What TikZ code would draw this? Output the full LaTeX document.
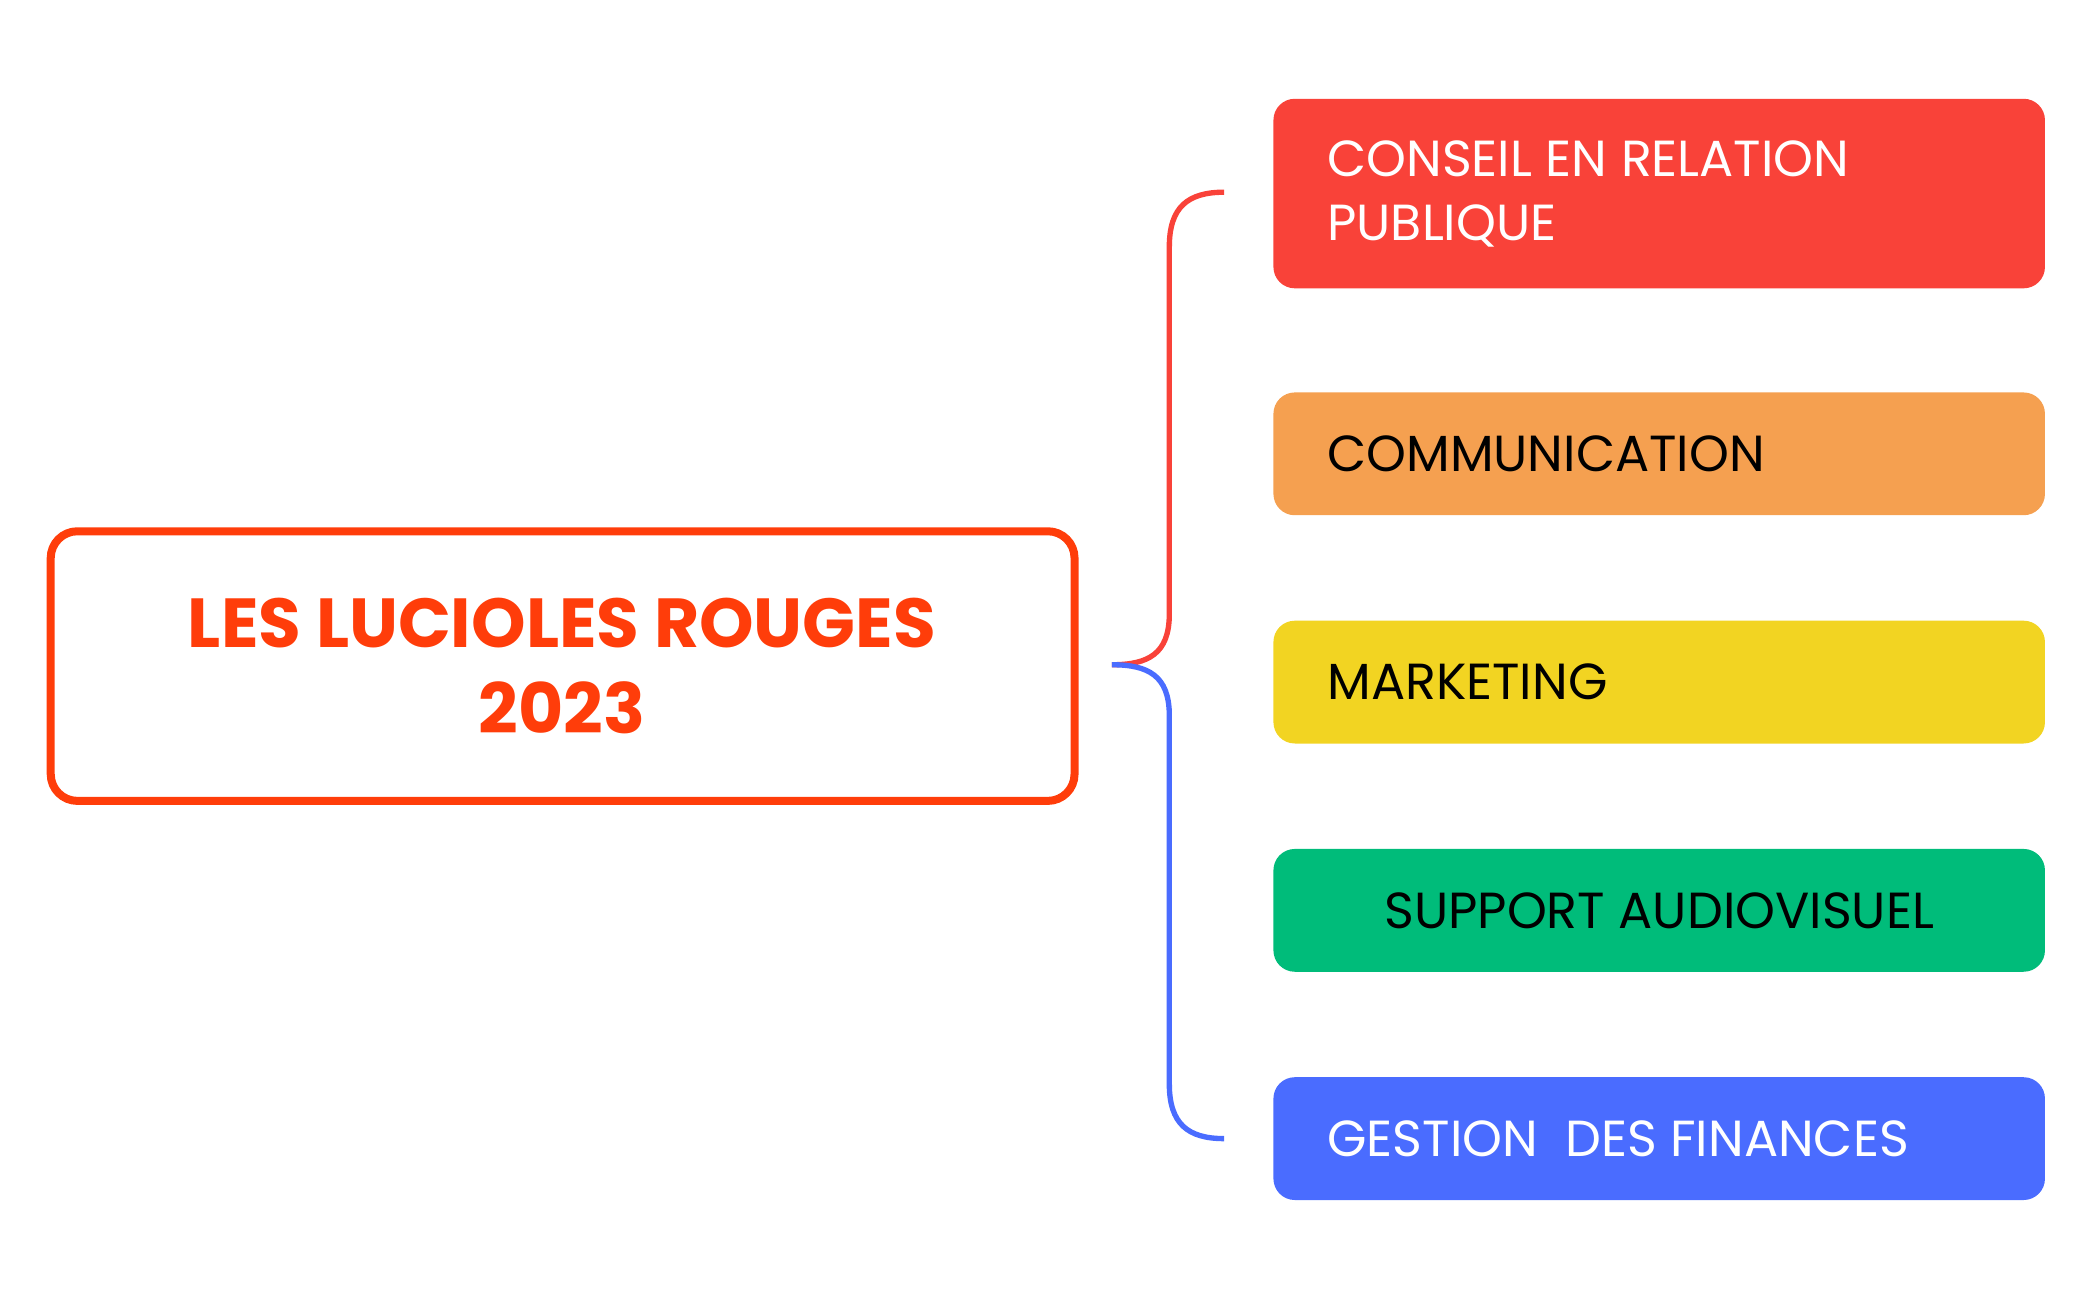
\documentclass[tikz,border=0pt]{standalone}
\usepackage{fontspec}
\setmainfont{Poppins}
\begin{document}
\begin{tikzpicture}[x=0.5pt,y=-0.5pt,
  cat/.style={rounded corners=8pt,inner sep=0pt},
  lbl/.style={font=\fontsize{19}{24}\selectfont,anchor=west,align=left,inner sep=0pt}]
\definecolor{cred}{HTML}{F94239}
\definecolor{corange}{HTML}{F5A050}
\definecolor{cyellow}{HTML}{F2D422}
\definecolor{cgreen}{HTML}{00BC7A}
\definecolor{cblue}{HTML}{4A6CFF}
\definecolor{cmain}{HTML}{FF3D0A}
\useasboundingbox (0,0) rectangle (1568,974);
\draw[cmain,line width=3pt,rounded corners=10pt] (38,398) rectangle (805,600);
\node[text=cmain,font=\fontsize{26}{32}\selectfont\bfseries,align=center] (main) at (421,499) {LES LUCIOLES ROUGES\\2023};
\fill[cred,cat] (954,74) rectangle (1532,216);
\fill[corange,cat] (954,294) rectangle (1532,386);
\fill[cyellow,cat] (954,465) rectangle (1532,557);
\fill[cgreen,cat] (954,636) rectangle (1532,728);
\fill[cblue,cat] (954,807) rectangle (1532,899);
\node[lbl,text=white] (b1) at (994,145) {CONSEIL EN RELATION\\PUBLIQUE};
\node[lbl] (b2) at (994,340) {COMMUNICATION};
\node[lbl] (b3) at (994,511) {MARKETING};
\node[font=\fontsize{19}{24}\selectfont,inner sep=0pt] (b4) at (1243,682) {SUPPORT AUDIOVISUEL};
\node[lbl,text=white] (b5) at (994,853) {GESTION\ \ DES FINANCES};
\coordinate (root) at (833,498);
\draw[cred,line width=2pt] (root) .. controls (860,498) and (876,490) .. (876,460) -- (876,185) .. controls (876,155) and (890,144) .. (917,144);
\draw[cblue,line width=2pt] (root) .. controls (860,498) and (876,506) .. (876,536) -- (876,812) .. controls (876,842) and (890,853) .. (917,853);
\end{tikzpicture}
\end{document}
